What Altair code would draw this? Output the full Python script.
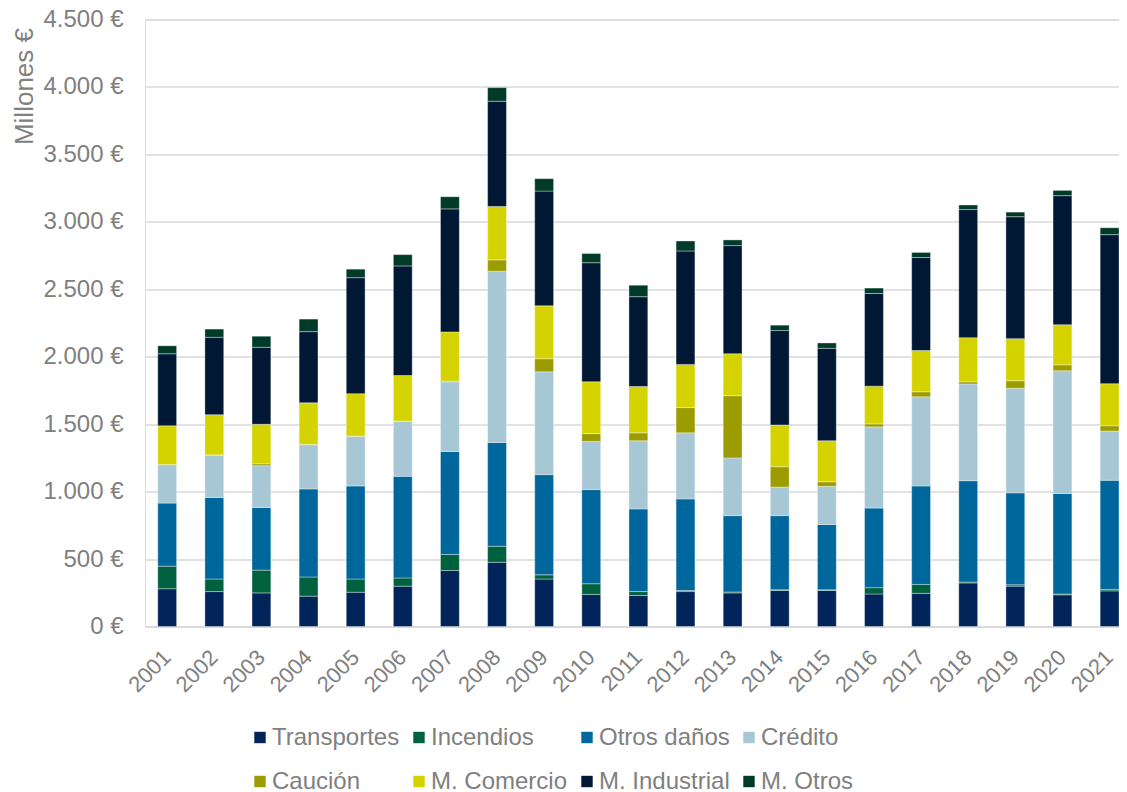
import altair as alt
import pandas as pd

years = [str(y) for y in range(2001, 2022)]
series = ["Transportes", "Incendios", "Otros daños", "Crédito",
          "Caución", "M. Comercio", "M. Industrial", "M. Otros"]
colors = ["#01245A", "#00613E", "#00679D", "#A7C7D4",
          "#9C9B00", "#D4D300", "#011834", "#003A28"]

transportes = [280, 259, 249, 225, 254, 299, 415, 476, 352, 238, 230, 259, 249, 267, 267, 241, 246, 323, 299, 235, 264]
incendios = [167, 93, 169, 142, 98, 61, 119, 119, 31, 79, 29, 8, 7, 5, 5, 47, 66, 7, 10, 6, 11]
otros_danos = [468, 605, 465, 653, 690, 753, 764, 769, 743, 698, 613, 679, 566, 550, 484, 590, 730, 751, 682, 745, 809]
credito = [285, 312, 309, 328, 367, 407, 516, 1269, 762, 357, 505, 490, 428, 212, 283, 602, 661, 717, 775, 910, 365]
caucion = [0, 3, 14, 2, 3, 3, 5, 85, 97, 58, 59, 187, 461, 150, 34, 22, 37, 16, 56, 44, 39]
m_comercio = [288, 298, 293, 308, 314, 338, 365, 396, 392, 384, 343, 320, 311, 310, 304, 280, 306, 327, 312, 297, 312]
m_industrial = [534, 574, 571, 528, 860, 812, 912, 780, 851, 883, 666, 841, 802, 700, 685, 687, 690, 950, 904, 957, 1105]
m_otros = [59, 61, 82, 93, 63, 84, 90, 101, 92, 68, 85, 74, 42, 40, 40, 40, 37, 34, 34, 39, 51]

values = [transportes, incendios, otros_danos, credito, caucion, m_comercio, m_industrial, m_otros]
y_ticks = list(range(0, 4501, 500))

rows = []
for idx, (name, vals) in enumerate(zip(series, values)):
    for yr, v in zip(years, vals):
        rows.append({"Año": yr, "Serie": name, "Valor": v, "idx": idx})
df = pd.DataFrame(rows)

FONT = "Liberation Sans"
GREY = "#808080"

chart = alt.Chart(df).mark_bar(stroke="#FFFFFF", strokeWidth=0.6, strokeOpacity=0.6).encode(
    x=alt.X("Año:N", sort=years,
            scale=alt.Scale(paddingInner=0.6, paddingOuter=0.1355, align=1),
            axis=alt.Axis(title=None, labelAngle=-45, labelAlign="right", labelBaseline="middle",
                          labelPadding=27, ticks=False, tickSize=0, grid=False,
                          domain=True, domainColor="#D9D9D9", domainWidth=1.3,
                          labelFont=FONT, labelFontSize=22, labelColor=GREY)),
    y=alt.Y("Valor:Q", stack="zero",
            scale=alt.Scale(domain=[0, 4500], nice=False),
            axis=alt.Axis(title="Millones €", values=y_ticks,
                          labelExpr="replace(format(datum.value, ','), ',', '.') + ' €'",
                          labelPadding=22, ticks=False, tickSize=0, domain=False,
                          grid=True, gridColor="#D9D9D9", gridWidth=1.3,
                          labelFont=FONT, labelFontSize=24, labelColor=GREY,
                          labelAlign="right", labelBaseline="middle",
                          titleFont=FONT, titleFontSize=26, titleColor=GREY,
                          titleFontWeight="normal", titleAngle=-90,
                          titleX=-113, titleY=8, titleAlign="right",
                          titleBaseline="alphabetic")),
    color=alt.Color("Serie:N",
                    scale=alt.Scale(domain=series, range=colors),
                    legend=alt.Legend(title=None, orient="none", legendX=98, legendY=706,
                                      direction="horizontal", gridAlign="each",
                                      columns=4, symbolType="square", symbolSize=130,
                                      symbolStrokeWidth=0, symbolOpacity=1, symbolOffset=5,
                                      labelFont=FONT, labelFontSize=24, labelColor=GREY,
                                      labelOffset=0, columnPadding=2, rowPadding=20,
                                      labelLimit=300, padding=0)),
    order=alt.Order("idx:Q", sort="ascending"),
).properties(
    width=974,
    height=607,
    autosize=alt.AutoSizeParams(type="none"),
    padding={"left": 137, "top": 11.5, "right": 0, "bottom": 175},
).configure_view(stroke=None).configure(background="white")

chart.save("out.html", embed_options={"renderer": "svg", "actions": False})
